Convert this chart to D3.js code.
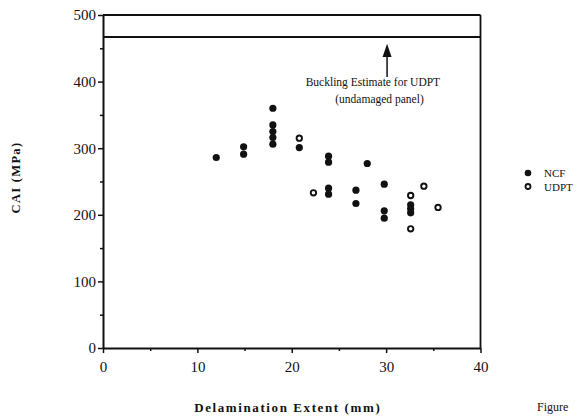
<!DOCTYPE html>
<html>
<head>
<meta charset="utf-8">
<script src="https://cdn.jsdelivr.net/npm/d3@7"></script>
<style>
  body { margin: 0; background: #fff; }
  svg text { font-family: "Liberation Serif", "DejaVu Serif", serif; fill: #111; }
</style>
</head>
<body>
<svg id="chart"></svg>
<script>
// Data
const ncfExtent = [12.0, 14.9, 14.9, 18.0, 18.0, 18.0, 18.0, 18.0, 20.8, 23.9, 23.9, 23.9, 23.9,
  26.8, 26.8, 28.0, 29.8, 29.8, 29.8, 32.6, 32.6, 32.6];
const ncfCAI = [286, 302, 291, 360, 335, 325, 316, 306, 301, 288, 279, 240, 231,
  237, 217, 277, 246, 206, 195, 215, 209, 203];
const udptExtent = [20.8, 22.3, 32.6, 32.6, 34.0, 35.5];
const udptCAI = [315, 233, 229, 179, 243, 211];

const xTicks = [0, 10, 20, 30, 40];
const yTicks = [0, 100, 200, 300, 400, 500];
const bucklingLoad = 467;
const seriesNames = ["NCF", "UDPT"];

// Layout
const W = 582, H = 419;
const margin = { top: 15, right: 101.5, bottom: 71, left: 103 };
const width = W - margin.left - margin.right;
const height = H - margin.top - margin.bottom;

const svg = d3.select("#chart").attr("width", W).attr("height", H);
const g = svg.append("g").attr("transform", `translate(${margin.left},${margin.top})`);

const x = d3.scaleLinear().domain([0, 40]).range([0, width]);
const y = d3.scaleLinear().domain([0, 500]).range([height, 0]);

// minor ticks
g.append("g")
  .attr("transform", `translate(0,${height})`)
  .call(d3.axisBottom(x).tickValues(d3.range(5, 40, 10)).tickSize(3).tickFormat(""))
  .call(a => a.select(".domain").remove());
g.append("g")
  .call(d3.axisLeft(y).tickValues(d3.range(50, 500, 100)).tickSize(3).tickFormat(""))
  .call(a => a.select(".domain").remove());

// major axes
const xAxis = g.append("g")
  .attr("transform", `translate(0,${height})`)
  .call(d3.axisBottom(x).tickValues(xTicks).tickSize(5).tickPadding(8).tickSizeOuter(0));
const yAxis = g.append("g")
  .call(d3.axisLeft(y).tickValues(yTicks).tickSize(5).tickPadding(2).tickSizeOuter(0));

[xAxis, yAxis].forEach(a => {
  a.selectAll("text").style("font-size", "15px").attr("fill", "#111");
  a.select(".domain").attr("stroke", "#111").attr("stroke-width", 2);
});
g.selectAll(".tick line").attr("stroke", "#111").attr("stroke-width", 1.5);

// frame top / right
g.append("line").attr("x1", 0).attr("x2", width).attr("y1", y(500)).attr("y2", y(500))
  .attr("stroke", "#111").attr("stroke-width", 1.8);
g.append("line").attr("x1", width).attr("x2", width).attr("y1", y(500)).attr("y2", y(0))
  .attr("stroke", "#111").attr("stroke-width", 1.8);

// buckling estimate line
g.append("line").attr("x1", 0).attr("x2", width)
  .attr("y1", y(bucklingLoad)).attr("y2", y(bucklingLoad))
  .attr("stroke", "#111").attr("stroke-width", 1.8);

// arrow + annotation
g.append("line")
  .attr("x1", x(30.1)).attr("x2", x(30.1))
  .attr("y1", y(407)).attr("y2", y(440))
  .attr("stroke", "#111").attr("stroke-width", 1.5);
g.append("path")
  .attr("d", `M${x(30.1)},${y(457)} L${x(30.1) - 4.5},${y(437)} L${x(30.1) + 4.5},${y(437)} Z`)
  .attr("fill", "#111");

g.append("text").attr("x", x(28.6)).attr("y", y(393))
  .attr("text-anchor", "middle").style("font-size", "11.5px")
  .text("Buckling Estimate for UDPT");
g.append("text").attr("x", x(29.3)).attr("y", y(368))
  .attr("text-anchor", "middle").style("font-size", "11.5px")
  .text("(undamaged panel)");

// points
const ncf = ncfExtent.map((d, i) => ({ x: d, y: ncfCAI[i] }));
const udpt = udptExtent.map((d, i) => ({ x: d, y: udptCAI[i] }));

g.selectAll(".ncf").data(ncf).enter().append("circle")
  .attr("class", "ncf")
  .attr("cx", d => x(d.x)).attr("cy", d => y(d.y))
  .attr("r", 3.6).attr("fill", "#111");

g.selectAll(".udpt").data(udpt).enter().append("circle")
  .attr("class", "udpt")
  .attr("cx", d => x(d.x)).attr("cy", d => y(d.y))
  .attr("r", 2.7).attr("fill", "#fff").attr("stroke", "#111").attr("stroke-width", 1.9);

// axis titles
svg.append("text")
  .attr("x", margin.left + width / 2 - 4).attr("y", 412)
  .attr("text-anchor", "middle")
  .style("font-size", "13px").style("font-weight", "bold").style("letter-spacing", "1.6px")
  .text("Delamination Extent (mm)");
svg.append("text")
  .attr("transform", `translate(20,${margin.top + height / 2 - 4}) rotate(-90)`)
  .attr("text-anchor", "middle")
  .style("font-size", "12.5px").style("font-weight", "bold").style("letter-spacing", "1.3px")
  .text("CAI (MPa)");

// legend
const legend = svg.append("g").attr("transform", "translate(528,173)");
seriesNames.forEach((name, i) => {
  const row = legend.append("g").attr("transform", `translate(0,${i * 13.5})`);
  if (i === 0) row.append("circle").attr("r", 3.3).attr("fill", "#111");
  else row.append("circle").attr("r", 2.5).attr("fill", "#fff").attr("stroke", "#111").attr("stroke-width", 1.8);
  row.append("text").attr("x", 16).attr("y", 4).style("font-size", "11px").text(name);
});

// figure caption fragment
svg.append("text").attr("x", 537).attr("y", 411).style("font-size", "12px").text("Figure");
</script>
</body>
</html>
